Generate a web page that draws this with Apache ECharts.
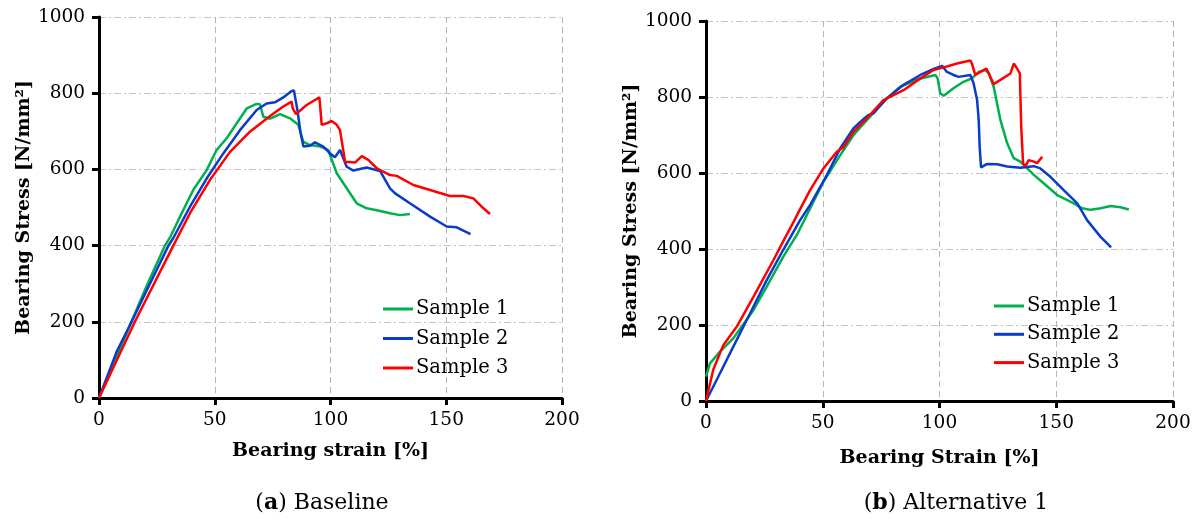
<!DOCTYPE html>
<html>
<head>
<meta charset="utf-8">
<script src="https://cdn.jsdelivr.net/npm/echarts@6/dist/echarts.min.js"></script>
<style>
html,body{margin:0;padding:0;background:#fff;}
#c{width:1198px;height:519px;}
</style>
</head>
<body>
<div id="c"></div>
<script>
// ---------- DATA ----------
const seriesNames = ['Sample 1', 'Sample 2', 'Sample 3'];
const xTicks = [0, 50, 100, 150, 200];
const yTicks = [0, 200, 400, 600, 800, 1000];

// (a) Baseline
const baseS1Strain = [0, 7, 14, 21, 28.5, 31, 35, 40.7, 46.5, 50.8, 55.2, 59.5, 63.8, 68.1, 69.5, 71, 73.9, 78.2, 82.5, 86.1, 88.2, 91.1, 95.5, 99, 102.7, 111.3, 115.6, 120, 125.7, 130, 134.3];
const baseS1Stress = [0, 100, 200, 300, 400, 425, 476, 546, 598, 651, 682, 721, 760, 772, 771, 738, 733, 745, 734, 717, 673, 664, 660, 651, 590, 511, 498, 493, 485, 480, 483];

const baseS2Strain = [0, 7.6, 14.1, 22, 30, 32.1, 39.3, 46.5, 53.7, 60.9, 68.1, 72.4, 76, 79.6, 83.2, 84.2, 85.7, 87.1, 88.3, 91.1, 93.3, 96.9, 99.8, 101.9, 104.1, 107, 109.9, 115.6, 121.4, 125.7, 127.9, 134.3, 143, 150.2, 154.5, 160.5];
const baseS2Stress = [0, 121, 200, 300, 400, 420, 502, 576, 642, 703, 756, 773, 776, 789, 806, 807, 756, 695, 660, 662, 671, 660, 642, 632, 651, 607, 597, 605, 596, 550, 537, 511, 476, 450, 448, 430];

const baseS3Strain = [0, 15.5, 32.1, 39.3, 47.9, 56.6, 65.2, 73.9, 79.6, 83.2, 83.7, 85.1, 89.7, 95.2, 96.2, 98.3, 100.5, 102.7, 104.1, 106.3, 110.6, 113.5, 116.3, 120, 125.7, 128.6, 135.8, 143, 151.6, 157.4, 161.7, 165.3, 168.9];
const baseS3Stress = [0, 200, 400, 485, 572, 646, 699, 740, 765, 778, 760, 745, 769, 789, 717, 721, 727, 717, 703, 620, 618, 635, 625, 603, 585, 583, 559, 546, 530, 530, 524, 502, 483];

// (b) Alternative 1
const altS1Strain = [0, 1.7, 6, 11.7, 15.3, 20.3, 26, 33.1, 38.9, 44.6, 50.3, 57.5, 63.2, 68.9, 76, 83.2, 90.3, 98.2, 99.2, 100.3, 101.8, 106, 110.3, 113.9, 116.8, 119.6, 121.1, 123.2, 126.1, 129, 131.8, 134.6, 136.8, 140.4, 144.6, 150.4, 157.5, 161.1, 164.7, 169, 173.2, 177.5, 181.1];
const altS1Stress = [64, 99, 130, 165, 196, 239, 301, 380, 437, 507, 577, 647, 700, 739, 788, 827, 846, 858, 849, 810, 803, 823, 840, 849, 866, 871, 862, 827, 739, 678, 639, 630, 617, 595, 573, 542, 520, 507, 503, 507, 513, 510, 504];

const altS2Strain = [0, 6, 11.7, 18.9, 26, 33.1, 40.3, 44.6, 51.8, 57.5, 63.2, 67.5, 69.6, 71.7, 77.5, 84.6, 91.8, 97.5, 101.1, 101.8, 103.2, 106, 108.2, 113.2, 114.6, 116.1, 116.8, 117.2, 117.8, 120.4, 124.7, 129, 134.6, 140.4, 143.2, 147.5, 153.2, 159, 163.2, 169, 173.5];
const altS2Stress = [0, 73, 143, 231, 318, 398, 476, 516, 595, 665, 718, 742, 753, 757, 797, 832, 858, 874, 882, 882, 866, 858, 853, 858, 836, 792, 739, 669, 615, 624, 623, 617, 614, 618, 612, 590, 555, 520, 476, 432, 404];

const altS3Strain = [0, 3.1, 7.4, 13.2, 20.3, 28.9, 33.9, 37.4, 40.3, 44.6, 50.3, 56, 58.9, 63.2, 68.9, 76, 84.6, 91.8, 97.5, 101.8, 107.5, 113.2, 113.9, 115.3, 117.5, 120.1, 121.1, 123.2, 126.1, 130.4, 131.8, 133.2, 134.4, 135, 135.8, 136.8, 138.2, 140.4, 141.8, 144];
const altS3Stress = [0, 82, 147, 196, 274, 371, 430, 470, 505, 555, 612, 656, 668, 709, 744, 792, 818, 849, 871, 878, 888, 896, 888, 858, 866, 875, 862, 834, 845, 862, 888, 875, 862, 722, 625, 618, 634, 630, 626, 643];

// ---------- STYLE ----------
const colors = ['#00B050', '#0A3CCB', '#FF0000'];
const FONT = 'DejaVu Serif';
const zip = (a, b) => a.map((v, i) => [v, b[i]]);

function xAxisCfg(gi, name, gap) {
  return {
    gridIndex: gi, type: 'value', min: xTicks[0], max: xTicks[xTicks.length - 1], interval: 50,
    name: name, nameLocation: 'middle', nameGap: gap,
    nameTextStyle: { fontFamily: FONT, fontWeight: 'bold', fontSize: 19, color: '#000' },
    axisLine: { show: true, onZero: false, lineStyle: { color: '#000', width: 3 } },
    axisTick: { show: true, inside: false, length: 7, lineStyle: { color: '#000', width: 3 } },
    axisLabel: { fontFamily: FONT, fontSize: 18.5, color: '#000', margin: 13, formatter: v => String(v) },
    splitLine: { show: true, lineStyle: { color: '#b5b5b5', width: 1, type: [6, 4] } }
  };
}
function yAxisCfg(gi, gap) {
  return {
    gridIndex: gi, type: 'value', min: yTicks[0], max: yTicks[yTicks.length - 1], interval: 200,
    name: 'Bearing Stress [N/mm²]', nameLocation: 'middle', nameGap: gap, nameRotate: 90,
    nameTextStyle: { fontFamily: FONT, fontWeight: 'bold', fontSize: 19, color: '#000' },
    axisLine: { show: true, onZero: false, lineStyle: { color: '#000', width: 3 } },
    axisTick: { show: true, inside: false, length: 7, lineStyle: { color: '#000', width: 3 } },
    axisLabel: { fontFamily: FONT, fontSize: 18.5, color: '#000', margin: 14, formatter: v => String(v) },
    splitLine: { show: true, lineStyle: { color: '#c4c4c4', width: 1, type: [7, 3, 2, 3] } }
  };
}
function lineSeries(name, idx, xi, data) {
  return {
    name: name, type: 'line', xAxisIndex: xi, yAxisIndex: xi, data: data,
    showSymbol: false, symbol: 'none', smooth: false,
    lineStyle: { color: colors[idx], width: 2.5 }, itemStyle: { color: colors[idx] },
    emphasis: { disabled: true }
  };
}
function legendCfg(left, top, gap) {
  return {
    orient: 'vertical', left: left, top: top, padding: 0, itemWidth: 30, itemHeight: 3, itemGap: gap,
    icon: 'rect', data: seriesNames, selectedMode: false,
    textStyle: { fontFamily: FONT, fontSize: 19.5, color: '#000', lineHeight: 24, padding: [0, 0, 0, -2] }
  };
}

const chart = echarts.init(document.getElementById('c'), null, { renderer: 'canvas' });
chart.setOption({
  animation: false,
  backgroundColor: '#fff',
  grid: [
    { left: 99, top: 17, width: 463, height: 381 },
    { left: 706, top: 21, width: 467, height: 380 }
  ],
  xAxis: [xAxisCfg(0, 'Bearing strain [%]', 44), xAxisCfg(1, 'Bearing Strain [%]', 48)],
  yAxis: [yAxisCfg(0, 62), yAxisCfg(1, 61)],
  legend: [legendCfg(383, 297, 5.5), legendCfg(994, 294, 4.3)],
  series: [
    lineSeries('Sample 1', 0, 0, zip(baseS1Strain, baseS1Stress)),
    lineSeries('Sample 2', 1, 0, zip(baseS2Strain, baseS2Stress)),
    lineSeries('Sample 3', 2, 0, zip(baseS3Strain, baseS3Stress)),
    lineSeries('Sample 1', 0, 1, zip(altS1Strain, altS1Stress)),
    lineSeries('Sample 2', 1, 1, zip(altS2Strain, altS2Stress)),
    lineSeries('Sample 3', 2, 1, zip(altS3Strain, altS3Stress))
  ],
  graphic: [
    {
      type: 'text', x: 322, y: 503,
      style: {
        text: '({b|a}) Baseline', align: 'center', verticalAlign: 'middle',
        font: '22px "DejaVu Serif"', fill: '#000',
        rich: { b: { fontFamily: FONT, fontWeight: 'bold', fontSize: 22, fill: '#000' } }
      }
    },
    {
      type: 'text', x: 956, y: 503,
      style: {
        text: '({b|b}) Alternative 1', align: 'center', verticalAlign: 'middle',
        font: '22px "DejaVu Serif"', fill: '#000',
        rich: { b: { fontFamily: FONT, fontWeight: 'bold', fontSize: 22, fill: '#000' } }
      }
    }
  ]
});
</script>
</body>
</html>
